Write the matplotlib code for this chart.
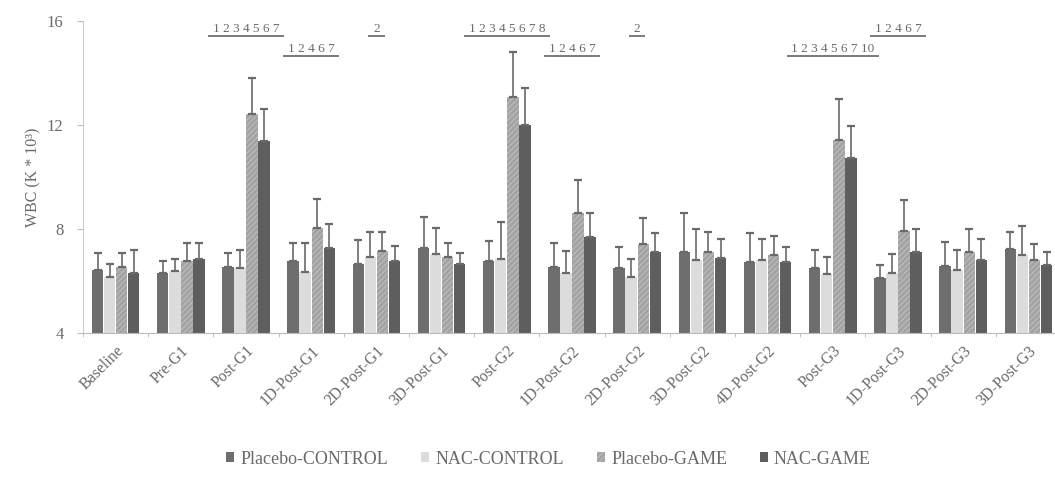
import matplotlib
matplotlib.use("Agg")
import matplotlib.pyplot as plt
import numpy as np

plt.rcParams["font.family"] = ["Liberation Serif", "DejaVu Serif"]
plt.rcParams["hatch.linewidth"] = 0.6

categories = ["Baseline", "Pre-G1", "Post-G1", "1D-Post-G1", "2D-Post-G1",
              "3D-Post-G1", "Post-G2", "1D-Post-G2", "2D-Post-G2", "3D-Post-G2",
              "4D-Post-G2", "Post-G3", "1D-Post-G3", "2D-Post-G3", "3D-Post-G3"]
groups = ["Placebo-CONTROL", "NAC-CONTROL", "Placebo-GAME", "NAC-GAME"]

placebo_control = [6.42, 6.32, 6.53, 6.77, 6.65, 7.26, 6.77, 6.53, 6.51, 7.10,
                   6.72, 6.49, 6.13, 6.59, 7.22]
placebo_control_err = [0.67, 0.46, 0.56, 0.68, 0.92, 1.21, 0.78, 0.92, 0.81, 1.50,
                       1.14, 0.70, 0.49, 0.92, 0.65]
nac_control = [6.17, 6.40, 6.50, 6.36, 6.91, 7.04, 6.83, 6.30, 6.17, 6.81,
               6.80, 6.27, 6.30, 6.42, 7.00]
nac_control_err = [0.48, 0.46, 0.69, 1.09, 0.99, 1.01, 1.43, 0.87, 0.66, 1.19,
                   0.82, 0.64, 0.74, 0.77, 1.12]
placebo_game = [6.53, 6.78, 12.42, 8.05, 7.15, 6.91, 13.07, 8.60, 7.42, 7.13,
                7.00, 11.42, 7.92, 7.10, 6.81]
placebo_game_err = [0.56, 0.69, 1.40, 1.10, 0.75, 0.54, 1.75, 1.28, 1.01, 0.77,
                    0.74, 1.58, 1.20, 0.90, 0.61]
nac_game = [6.32, 6.86, 11.40, 7.26, 6.77, 6.65, 12.00, 7.68, 7.10, 6.87,
            6.74, 10.72, 7.10, 6.81, 6.62]
nac_game_err = [0.87, 0.61, 1.23, 0.92, 0.59, 0.42, 1.41, 0.92, 0.76, 0.75,
                0.56, 1.25, 0.90, 0.81, 0.51]

# significance labels: (category index, text, row)
sig_labels = [(2, "1 2 3 4 5 6 7", 0), (3, "1 2 4 6 7", 1), (4, "2", 0),
              (6, "1 2 3 4 5 6 7 8", 0), (7, "1 2 4 6 7", 1), (8, "2", 0),
              (12, "1 2 4 6 7", 0), (11, "1 2 3 4 5 6 7 10", 1)]

colors = ["#6e6e6e", "#dcdcdc", "#a3a3a3", "#5e5e5e"]
hatches = [None, None, "//////", None]
err_color = "#6a6a6a"
text_color = "#6a6a6a"

fig = plt.figure(figsize=(10.55, 4.84), dpi=100)
ax = fig.add_axes([0.0787, 0.312, 0.927, 0.6446])

x = np.arange(len(categories))
width = 0.175
series = [(placebo_control, placebo_control_err), (nac_control, nac_control_err),
          (placebo_game, placebo_game_err), (nac_game, nac_game_err)]
for i, (vals, errs) in enumerate(series):
    pos = x + (i - 1.5) * 0.185
    ax.bar(pos, vals, width, color=colors[i], hatch=hatches[i],
           edgecolor="#c4c4c4" if hatches[i] else colors[i], linewidth=0,
           label=groups[i], zorder=2)
    ax.errorbar(pos, vals, yerr=[np.zeros(len(errs)), errs], fmt="none",
                ecolor=err_color, elinewidth=1.2, capsize=3, capthick=1.6,
                zorder=3)

row_y = [15.45, 14.7]
for idx, txt, row in sig_labels:
    ax.text(idx, row_y[row], txt, ha="center", va="bottom", fontsize=9.5,
            color=text_color)
    half = 0.06 + 0.05 * len(txt.replace(" ", "")) + 0.026 * txt.count(" ")
    ax.plot([idx - half, idx + half], [row_y[row] - 0.04] * 2, color="#7a7a7a",
            linewidth=1.4, clip_on=False)

ax.set_xlim(-0.5, len(categories) - 0.5)
ax.set_ylim(4, 16)
ax.set_yticks([4, 8, 12, 16])
ax.set_xticks(x)
ax.set_xticks(np.arange(-0.5, len(categories), 1), minor=True)
ax.set_xticklabels(categories, rotation=45, ha="right", rotation_mode="anchor",
                   fontsize=11.5, color=text_color)
ax.tick_params(axis="x", which="major", length=0, pad=7)
ax.tick_params(axis="x", which="minor", length=3, color="#bbbbbb")
ax.tick_params(axis="y", labelsize=12, colors="#bbbbbb", labelcolor=text_color,
               length=4, pad=10)
ax.set_ylabel("WBC (K * 10³)", fontsize=11.5, color=text_color, labelpad=4)
for s in ["top", "right"]:
    ax.spines[s].set_visible(False)
ax.spines["left"].set_color("#cccccc")
ax.spines["bottom"].set_color("#bbbbbb")

leg = fig.legend(loc="lower center", bbox_to_anchor=(0.52, 0.0), ncol=4,
                 frameon=False, fontsize=13, handlelength=0.45, handleheight=0.45,
                 handletextpad=0.35, columnspacing=1.8)
for t in leg.get_texts():
    t.set_color(text_color)

fig.savefig("out.png", dpi=100)
